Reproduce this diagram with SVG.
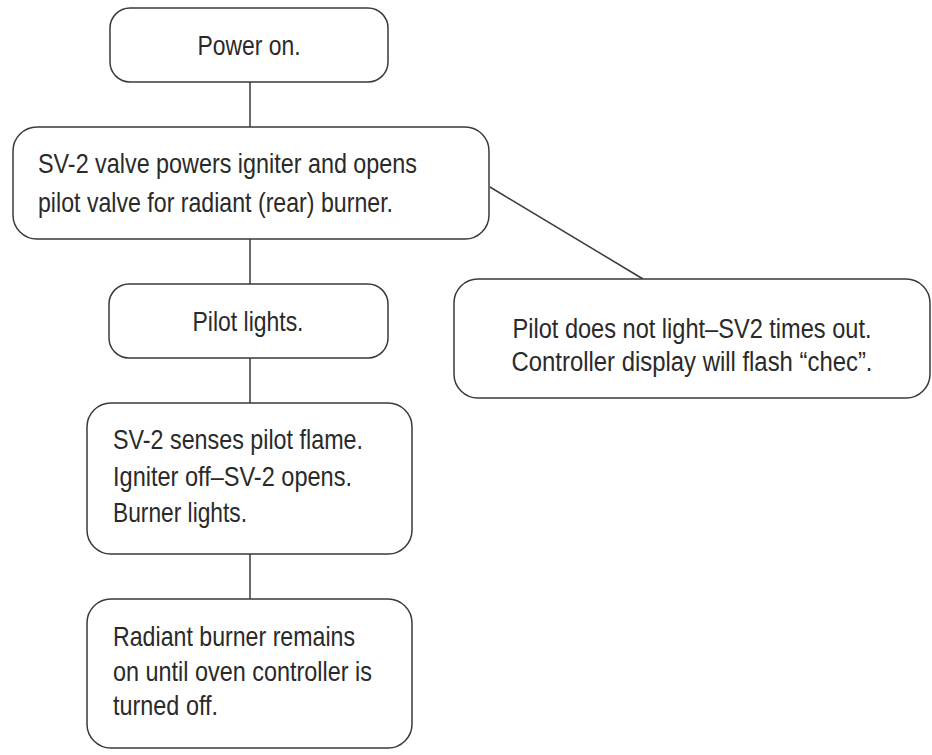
<svg xmlns="http://www.w3.org/2000/svg" width="932" height="755" viewBox="0 0 932 755">
<style>
.box{fill:#ffffff;stroke:#3a3a3a;stroke-width:1.5}
.conn{stroke:#3a3a3a;stroke-width:1.5;fill:none}
.t{font-family:"Liberation Sans",Arial,sans-serif;font-size:28.5px;fill:#2a2a2a}
.s{font-size:27px}
.c{text-anchor:middle}
</style>
<rect width="932" height="755" fill="#ffffff"/>
<g id="connectors">
<line class="conn" x1="250" y1="82" x2="250" y2="127"/>
<line class="conn" x1="250" y1="239" x2="250" y2="284"/>
<line class="conn" x1="250" y1="358" x2="250" y2="403"/>
<line class="conn" x1="250" y1="554" x2="250" y2="599"/>
<line class="conn" x1="490" y1="187" x2="643" y2="279"/>
</g>
<g id="power-on">
<rect class="box" x="110" y="8" width="278" height="74" rx="20"/>
<text class="t c" x="249" y="55" textLength="103" lengthAdjust="spacingAndGlyphs">Power on.</text>
</g>
<g id="sv2-powers">
<rect class="box" x="13" y="127" width="476" height="112" rx="24"/>
<text class="t" x="38" y="173" textLength="379" lengthAdjust="spacingAndGlyphs">SV-2 valve powers igniter and opens</text>
<text class="t" x="38" y="212" textLength="355" lengthAdjust="spacingAndGlyphs">pilot valve for radiant (rear) burner.</text>
</g>
<g id="pilot-lights">
<rect class="box" x="109" y="284" width="279" height="74" rx="20"/>
<text class="t c" x="248" y="331" textLength="111" lengthAdjust="spacingAndGlyphs">Pilot lights.</text>
</g>
<g id="pilot-not-light">
<rect class="box" x="454" y="279" width="476" height="119" rx="24"/>
<text class="t s c" x="692" y="338" textLength="359" lengthAdjust="spacingAndGlyphs">Pilot does not light–SV2 times out.</text>
<text class="t s c" x="692" y="371" textLength="361" lengthAdjust="spacingAndGlyphs">Controller display will flash “chec”.</text>
</g>
<g id="sv2-senses">
<rect class="box" x="87" y="403" width="325" height="151" rx="24"/>
<text class="t" x="113" y="449" textLength="250" lengthAdjust="spacingAndGlyphs">SV-2 senses pilot flame.</text>
<text class="t" x="113" y="486" textLength="239" lengthAdjust="spacingAndGlyphs">Igniter off–SV-2 opens.</text>
<text class="t" x="113" y="522" textLength="134" lengthAdjust="spacingAndGlyphs">Burner lights.</text>
</g>
<g id="radiant-remains">
<rect class="box" x="87" y="599" width="325" height="149" rx="24"/>
<text class="t" x="113" y="646" textLength="242" lengthAdjust="spacingAndGlyphs">Radiant burner remains</text>
<text class="t" x="113" y="681" textLength="259" lengthAdjust="spacingAndGlyphs">on until oven controller is</text>
<text class="t" x="113" y="715" textLength="105" lengthAdjust="spacingAndGlyphs">turned off.</text>
</g>
</svg>
